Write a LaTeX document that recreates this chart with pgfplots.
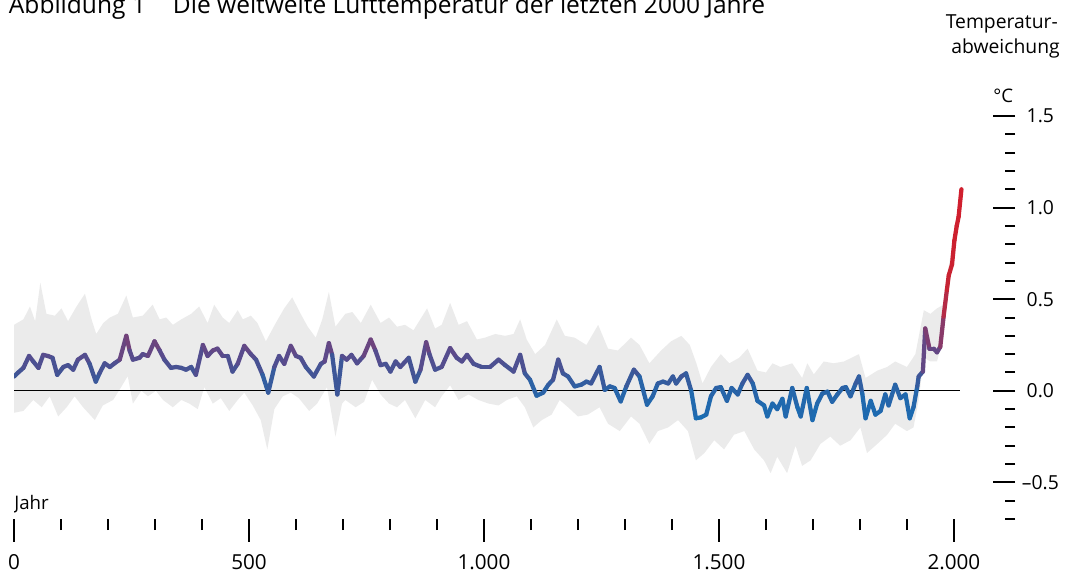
\documentclass[border=0pt]{standalone}
\usepackage{fontspec}
\setmainfont{Open Sans}
\usepackage{pgfplots}
\pgfplotsset{compat=1.18}

\begin{document}
\begin{tikzpicture}
\begin{axis}[
  at={(10.5pt,-389.25pt)}, anchor=south west,
  scale only axis, width=750.75pt, height=302.25pt,
  xmin=0, xmax=2130, ymin=-0.7, ymax=1.5,
  axis x line*=bottom, axis y line=none,
  x axis line style={draw=none},
  tick align=outside,
  xtick={0,500,1000,1500,2000},
  xticklabels={0,500,1.000,1.500,2.000},
  minor xtick={100,200,300,400,600,700,800,900,1100,1200,1300,1400,1600,1700,1800,1900},
  major tick length=17pt, minor tick length=8.25pt,
  every tick/.style={black, line width=1.2pt},
  xticklabel style={font=\fontsize{15.5}{18}\selectfont, anchor=base, yshift=-20.5pt},
  colormap={temp}{rgb255(0pt)=(25,110,180) rgb255(16pt)=(40,100,168) rgb255(26pt)=(65,85,150) rgb255(36pt)=(90,75,140) rgb255(46pt)=(130,60,110) rgb255(61pt)=(175,45,75) rgb255(76pt)=(200,35,50) rgb255(126pt)=(210,30,45)},
  point meta min=-0.16, point meta max=1.1,
]
% uncertainty band: upper edge forward, lower edge backward
\addplot[fill=black!8, draw=none] coordinates {
(0,0.36) (20,0.39) (34,0.46) (45,0.38) (56,0.59) (69,0.42) (87,0.41) (101,0.45) (115,0.38) (133,0.46) (151,0.53) (165,0.39) (175,0.31) (190,0.37) (204,0.40) (221,0.42) (239,0.52) (253,0.40) (274,0.41) (295,0.47) (310,0.39) (324,0.40) (338,0.36) (356,0.39) (377,0.42) (394,0.46) (412,0.37) (426,0.47) (444,0.40) (458,0.37) (476,0.44) (487,0.39) (504,0.41) (518,0.37) (536,0.27) (557,0.37) (575,0.45) (592,0.51) (610,0.42) (625,0.35) (642,0.29) (656,0.39) (670,0.54) (684,0.35) (705,0.42) (720,0.43) (738,0.37) (759,0.47) (780,0.37) (798,0.40) (815,0.35) (832,0.36) (850,0.33) (879,0.45) (896,0.34) (910,0.36) (928,0.48) (946,0.36) (964,0.38) (985,0.28) (1002,0.29) (1024,0.31) (1045,0.30) (1063,0.31) (1077,0.39) (1091,0.28) (1109,0.20) (1130,0.25) (1155,0.39) (1172,0.30) (1193,0.29) (1218,0.25) (1243,0.36) (1264,0.23) (1285,0.22) (1313,0.29) (1331,0.25) (1352,0.15) (1377,0.22) (1398,0.27) (1420,0.30) (1438,0.25) (1452,0.15) (1465,0.04) (1483,0.13) (1504,0.20) (1522,0.15) (1543,0.18) (1561,0.23) (1582,0.11) (1600,0.10) (1614,0.15) (1631,0.13) (1656,0.15) (1677,0.07) (1688,0.15) (1702,0.09) (1723,0.16) (1744,0.15) (1766,0.16) (1798,0.20) (1812,0.07) (1837,0.11) (1858,0.13) (1875,0.16) (1900,0.13) (1918,0.20) (1936,0.44) (1950,0.42) (1964,0.45) (1978,0.47) (1989,0.68) (2001,0.86) (2010,1.0) (2016,1.13)
(2016,1.06) (2010,0.9) (2001,0.76) (1989,0.55) (1978,0.30) (1964,0.16) (1950,0.16) (1936,0.18) (1925,-0.05) (1914,-0.20) (1900,-0.22) (1875,-0.18) (1858,-0.24) (1837,-0.29) (1815,-0.34) (1801,-0.20) (1780,-0.27) (1758,-0.30) (1737,-0.25) (1716,-0.29) (1695,-0.38) (1677,-0.41) (1663,-0.30) (1645,-0.45) (1624,-0.36) (1610,-0.45) (1596,-0.38) (1575,-0.32) (1554,-0.22) (1532,-0.24) (1511,-0.32) (1490,-0.27) (1469,-0.34) (1451,-0.38) (1434,-0.22) (1413,-0.16) (1392,-0.20) (1370,-0.22) (1352,-0.29) (1331,-0.18) (1313,-0.14) (1289,-0.22) (1264,-0.18) (1246,-0.09) (1221,-0.13) (1200,-0.14) (1179,-0.09) (1161,-0.05) (1144,-0.13) (1123,-0.16) (1105,-0.20) (1087,-0.09) (1070,-0.03) (1049,-0.05) (1031,-0.08) (1010,-0.07) (988,-0.05) (967,-0.02) (946,-0.05) (928,0.03) (910,-0.03) (896,-0.09) (875,-0.05) (854,-0.15) (832,-0.05) (815,-0.09) (798,-0.07) (780,-0.02) (762,0.06) (745,-0.06) (727,-0.09) (705,-0.05) (698,-0.07) (684,-0.25) (666,0.02) (645,-0.07) (628,-0.11) (606,-0.04) (589,-0.01) (572,-0.03) (554,-0.10) (539,-0.32) (525,-0.16) (508,-0.08) (490,-0.01) (476,-0.05) (458,-0.11) (440,-0.04) (423,-0.07) (405,0.02) (391,-0.10) (373,-0.07) (356,-0.05) (338,-0.09) (317,-0.05) (302,0.0) (285,-0.03) (271,0.0) (253,-0.07) (242,0.08) (228,0.02) (211,-0.05) (189,-0.08) (172,-0.16) (147,-0.09) (129,-0.03) (112,-0.09) (94,-0.14) (76,-0.03) (59,-0.09) (41,-0.05) (20,-0.11) (0,-0.12)} -- cycle;
\addplot[black, line width=0.9pt] coordinates {(0,0) (2012,0)};
\addplot[mesh, point meta=y, line width=3.2pt, line cap=round, line join=round] coordinates {
(0,0.078) (9,0.10) (20,0.125) (32,0.19) (41,0.16) (52,0.125) (62,0.196) (72,0.19) (82,0.18) (92,0.087) (105,0.13) (115,0.14) (126,0.115) (136,0.17) (151,0.196) (161,0.147) (174,0.05) (182,0.096) (193,0.15) (204,0.13) (214,0.15) (225,0.17) (239,0.30) (246,0.22) (253,0.17) (267,0.18) (274,0.20) (285,0.19) (299,0.27) (310,0.22) (320,0.17) (334,0.125) (345,0.13) (356,0.125) (366,0.115) (377,0.13) (387,0.087) (402,0.25) (412,0.19) (423,0.22) (433,0.23) (444,0.19) (455,0.19) (465,0.105) (476,0.147) (490,0.245) (504,0.20) (515,0.17) (529,0.087) (541,-0.01) (554,0.13) (564,0.19) (575,0.147) (589,0.245) (600,0.19) (610,0.18) (621,0.13) (638,0.078) (653,0.147) (661,0.16) (670,0.26) (677,0.196) (688,-0.02) (698,0.19) (708,0.17) (718,0.196) (730,0.15) (744,0.19) (759,0.28) (769,0.22) (780,0.14) (791,0.147) (801,0.105) (812,0.16) (822,0.13) (840,0.18) (854,0.05) (865,0.115) (877,0.265) (884,0.2) (896,0.115) (910,0.13) (928,0.233) (942,0.18) (953,0.16) (964,0.196) (978,0.147) (995,0.13) (1013,0.13) (1031,0.17) (1045,0.14) (1063,0.105) (1077,0.196) (1087,0.095) (1098,0.06) (1112,-0.027) (1126,-0.01) (1137,0.033) (1147,0.06) (1158,0.17) (1168,0.095) (1179,0.078) (1193,0.024) (1207,0.033) (1218,0.05) (1228,0.04) (1246,0.13) (1257,0.005) (1268,0.024) (1278,0.015) (1291,-0.058) (1303,0.024) (1319,0.115) (1331,0.078) (1347,-0.076) (1359,-0.03) (1370,0.04) (1381,0.05) (1392,0.04) (1402,0.078) (1409,0.04) (1420,0.078) (1430,0.095) (1441,0.0) (1451,-0.15) (1462,-0.145) (1473,-0.13) (1483,-0.03) (1494,0.015) (1504,0.02) (1517,-0.055) (1527,0.015) (1540,-0.02) (1550,0.04) (1561,0.087) (1572,0.04) (1582,-0.055) (1596,-0.08) (1603,-0.14) (1614,-0.07) (1624,-0.1) (1635,-0.044) (1642,-0.14) (1656,0.015) (1667,-0.09) (1674,-0.14) (1687,0.015) (1699,-0.16) (1709,-0.07) (1720,-0.015) (1731,-0.005) (1741,-0.06) (1752,-0.02) (1763,0.015) (1770,0.02) (1780,-0.03) (1791,0.04) (1798,0.078) (1805,-0.015) (1812,-0.15) (1823,-0.055) (1833,-0.13) (1844,-0.11) (1854,-0.02) (1861,-0.08) (1875,0.033) (1886,-0.04) (1897,-0.02) (1906,-0.15) (1914,-0.09) (1922,0.024) (1925,0.078) (1934,0.105) (1939,0.34) (1948,0.23) (1957,0.23) (1964,0.21) (1971,0.24) (1978,0.405) (1985,0.55) (1989,0.63) (1996,0.69) (2001,0.82) (2006,0.90) (2010,0.95) (2016,1.10)};
\node[anchor=base west, inner sep=0pt, font=\fontsize{14}{17}\selectfont] at ([yshift=7.5pt]axis cs:0,-0.7) {Jahr};
\end{axis}
\begin{axis}[
  at={(10.5pt,-389.25pt)}, anchor=south west,
  scale only axis, width=750.75pt, height=302.25pt,
  xmin=0, xmax=2130, ymin=-0.7, ymax=1.5,
  axis x line=none, axis y line*=right,
  y axis line style={draw=none},
  tick align=inside,
  ytick={-0.5,0,0.5,1,1.5},
  yticklabels={–0.5,0.0,0.5,1.0,1.5},
  minor ytick={-0.7,-0.6,-0.4,-0.3,-0.2,-0.1,0.1,0.2,0.3,0.4,0.6,0.7,0.8,0.9,1.1,1.2,1.3,1.4},
  major tick length=16.5pt, minor tick length=7.5pt,
  every tick/.style={black, line width=1.5pt},
  yticklabel style={font=\fontsize{14.5}{17}\selectfont, anchor=center, xshift=19pt},
]
\addplot[draw=none, forget plot] coordinates {(0,0)};
\end{axis}
\node[anchor=base west, inner sep=0pt, font=\fontsize{14}{17}\selectfont] at (744.75pt,-77pt) {°C};
\node[anchor=base east, inner sep=0pt, font=\fontsize{14.5}{17}\selectfont] at (793.5pt,-21.2pt) {Temperatur-};
\node[anchor=base east, inner sep=0pt, font=\fontsize{14.5}{17}\selectfont] at (795pt,-40pt) {abweichung};
\node[anchor=base west, inner sep=0pt, font=\fontsize{18.4}{21}\selectfont] at (6.5pt,-10pt) {Abbildung 1\hspace{1.1em}Die weltweite Lufttemperatur der letzten 2000 Jahre};
\pgfresetboundingbox
\path[use as bounding box] (0,0) rectangle (803.25pt,-432pt);
\end{tikzpicture}
\end{document}
